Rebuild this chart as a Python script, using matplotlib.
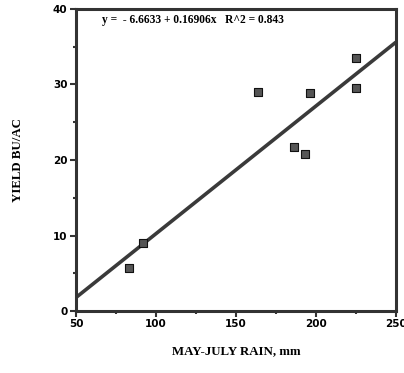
import matplotlib
matplotlib.use("Agg")
import matplotlib.pyplot as plt
import numpy as np
from matplotlib.ticker import MultipleLocator

rain = [83, 92, 164, 196, 225, 225, 186, 193]
yield_bu = [5.7, 9.0, 29.0, 28.9, 33.5, 29.6, 21.7, 20.8]
intercept = -6.6633
slope = 0.16906
eq_text = "y =  - 6.6633 + 0.16906x   R^2 = 0.843"

fig = plt.figure(figsize=(4.04, 3.73), dpi=100)
ax = fig.add_axes([0.188, 0.166, 0.792, 0.810])

xl = np.array([50, 250])
ax.plot(xl, intercept + slope * xl, color="#3a3a3a", lw=2.6, solid_capstyle="butt", zorder=2)
ax.scatter(rain, yield_bu, marker="s", s=26, color="#555555", edgecolor="#111111", linewidth=0.8, zorder=3)

ax.set_xlim(50, 250)
ax.set_ylim(0, 40)
ax.xaxis.set_major_locator(MultipleLocator(50))
ax.xaxis.set_minor_locator(MultipleLocator(25))
ax.yaxis.set_major_locator(MultipleLocator(10))
ax.yaxis.set_minor_locator(MultipleLocator(5))
ax.tick_params(which="major", direction="out", length=4, width=1.5, labelsize=7.5, pad=2, color="#333333")
ax.tick_params(which="minor", direction="out", length=2.5, width=1.5, color="#333333")
for lab in ax.get_xticklabels() + ax.get_yticklabels():
    lab.set_fontweight("heavy")
    lab.set_family("DejaVu Sans")
for sp in ax.spines.values():
    sp.set_linewidth(2.2)
    sp.set_color("#333333")

ax.text(66.5, 38.6, eq_text, fontsize=8.3, fontweight="bold", family="Liberation Serif", va="center", ha="left")
ax.set_xlabel("MAY-JULY RAIN, mm", fontsize=9.3, fontweight="bold", family="Liberation Serif", labelpad=11)
ax.set_ylabel("YIELD BU/AC", fontsize=9.3, fontweight="bold", family="Liberation Serif", labelpad=21)

fig.savefig("out.png", dpi=100)
